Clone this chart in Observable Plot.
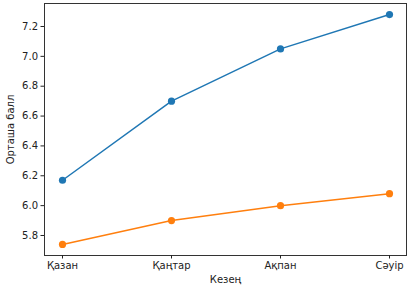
<!DOCTYPE html>
<html>
<head>
<meta charset="utf-8">
<script src="https://cdn.jsdelivr.net/npm/d3@7"></script>
<script src="https://cdn.jsdelivr.net/npm/@observablehq/plot@0.6"></script>
<style>
  html, body { margin: 0; padding: 0; background: white; }
</style>
</head>
<body>
<div id="chart"></div>
<script>
const periods = ["Қазан", "Қаңтар", "Ақпан", "Сәуір"];
const seriesBlue = [6.17, 6.70, 7.05, 7.28];
const seriesOrange = [5.74, 5.90, 6.00, 6.08];
const yTicks = [5.8, 6.0, 6.2, 6.4, 6.6, 6.8, 7.0, 7.2];

const rows = [];
periods.forEach((p, i) => {
  rows.push({period: p, value: seriesBlue[i], series: "blue"});
});
periods.forEach((p, i) => {
  rows.push({period: p, value: seriesOrange[i], series: "orange"});
});
const colorMap = {blue: "#1f77b4", orange: "#ff7f0e"};

const chart = Plot.plot({
  width: 414,
  height: 293,
  marginLeft: 44,
  marginRight: 8,
  marginTop: 3,
  marginBottom: 38,
  style: {fontFamily: "DejaVu Sans", fontSize: "10px", background: "white", color: "#222"},
  x: {type: "point", domain: periods, padding: 0.156},
  y: {domain: [5.666, 7.354]},
  marks: [
    Plot.frame({stroke: "#333", strokeWidth: 1}),
    Plot.axisX({tickSize: 3.5, tickPadding: 3, label: "Кезең", labelAnchor: "center", labelArrow: "none", labelOffset: 27}),
    Plot.axisY({ticks: yTicks, tickFormat: ".1f", tickSize: 3.5, tickPadding: 3, label: "Орташа балл", labelAnchor: "center", labelArrow: "none", labelOffset: 38}),
    Plot.line(rows, {x: "period", y: "value", z: "series", stroke: d => colorMap[d.series], strokeWidth: 1.5}),
    Plot.dot(rows, {x: "period", y: "value", fill: d => colorMap[d.series], r: 3.6})
  ]
});
document.getElementById("chart").appendChild(chart);
</script>
</body>
</html>
